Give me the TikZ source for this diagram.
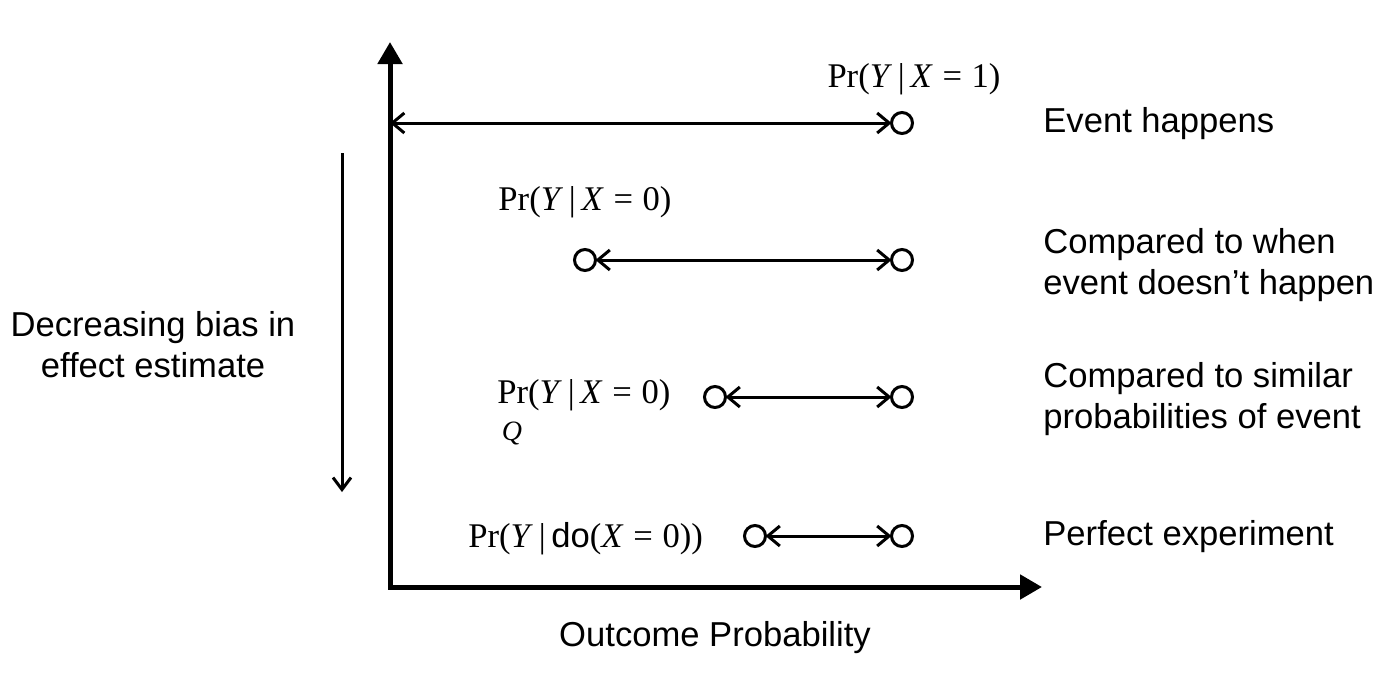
\documentclass[tikz,border=0pt]{standalone}
\usepackage{fontspec}
\setmainfont{Liberation Sans}
\newfontfamily\mathserif{Liberation Serif}
\usetikzlibrary{arrows.meta}
\newcommand{\mv}[1]{\textit{#1}}
\newcommand{\eqs}{\hspace{0.28em}=\hspace{0.28em}}
\begin{document}
\begin{tikzpicture}[x=0.5pt,y=-0.5pt,
  axis/.style={line width=2.5pt,-{Triangle[length=11pt,width=12pt]}},
  dot/.style={circle,draw,line width=1.5pt,minimum size=10.5pt,inner sep=0pt,outer sep=0pt},
  span/.style={line width=1.5pt,{Straight Barb[length=6pt,width=10pt]}-{Straight Barb[length=6pt,width=10pt]}},
  lbl/.style={font=\fontsize{17.3}{20}\selectfont\mathserif,inner sep=0pt},
  txt/.style={font=\fontsize{17.3}{20.5}\selectfont,inner sep=0pt,align=left,anchor=west},
  ctxt/.style={font=\fontsize{17.3}{20.5}\selectfont,inner sep=0pt,align=center}]
\useasboundingbox (0,0) rectangle (1400,696);
% axes
\coordinate (o) at (390,587);
\coordinate (ytop) at (390,42);
\coordinate (xend) at (1042,587);
\draw[axis] (390,589) -- (ytop);
\draw[axis] (388,587) -- (xend);
% row 1
\coordinate (a1) at (390,123);
\node[dot] (r1) at (902,123) {};
\draw[span] (a1) -- (r1);
\node[lbl] (l1) at (914,79) {Pr(\mv{Y}\,|\,\mv{X}\eqs1)};
\node[txt] (t1) at (1043,124) {Event happens};
% row 2
\node[dot] (q2) at (585,260) {};
\node[dot] (r2) at (902,260) {};
\draw[span] (q2) -- (r2);
\node[lbl] (l2) at (585,202) {Pr(\mv{Y}\,|\,\mv{X}\eqs0)};
\node[txt] (t2) at (1043,265) {Compared to when\\event doesn’t happen};
% row 3
\node[dot] (q3) at (715,397) {};
\node[dot] (r3) at (902,397) {};
\draw[span] (q3) -- (r3);
\node[lbl,anchor=west] (l3) at (497,395) {Pr(\mv{Y}\,|\,\mv{X}\eqs0)};
\node[lbl] (s3) at (512,433) {\fontsize{14}{16}\selectfont\mv{Q}};
\node[txt] (t3) at (1043,399) {Compared to similar\\probabilities of event};
% row 4
\node[dot] (q4) at (755,536) {};
\node[dot] (r4) at (902,536) {};
\draw[span] (q4) -- (r4);
\node[lbl,anchor=west] (l4) at (468,539) {Pr(\mv{Y}\,|\,{\normalfont do}(\mv{X}\eqs0))};
\node[txt] (t4) at (1043,537) {Perfect experiment};
% bias arrow
\coordinate (b1) at (342,153);
\coordinate (b2) at (342,492);
\draw[line width=1.5pt,-{Straight Barb[length=6pt,width=9pt]}] (b1) -- (b2);
\node[ctxt] (bt) at (153,345) {Decreasing bias in\\effect estimate};
\node[ctxt] (xl) at (715,638) {Outcome Probability};
\end{tikzpicture}
\end{document}
